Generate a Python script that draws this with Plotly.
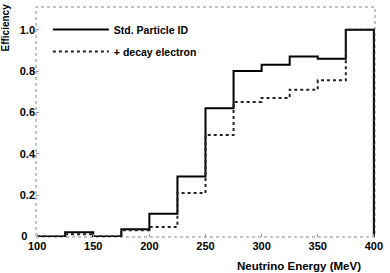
import plotly.graph_objects as go

bin_edges = [100, 125, 150, 175, 200, 225, 250, 275, 300, 325, 350, 375, 400]
std_pid = [0.0, 0.02, 0.0, 0.035, 0.11, 0.29, 0.62, 0.80, 0.83, 0.87, 0.86, 1.0]
decay_e = [0.0, 0.01, 0.0, 0.03, 0.045, 0.21, 0.49, 0.65, 0.67, 0.71, 0.755, 1.0]
x_ticks = [100, 150, 200, 250, 300, 350, 400]
y_ticks = [0, 0.2, 0.4, 0.6, 0.8, 1.0]
y_ticklabels = ["0\u2002\u2009", "0.2", "0.4", "0.6", "0.8", "1.0"]

FONT = "Liberation Sans"

fig = go.Figure()
fig.add_trace(go.Scatter(
    x=bin_edges, y=std_pid + [0.0], mode="lines", line_shape="hv",
    line=dict(color="black", width=2), name="Std. Particle ID", legendgroup="a"))
fig.add_trace(go.Scatter(
    x=bin_edges, y=decay_e + [0.0], mode="lines", line_shape="hv",
    line=dict(color="#222222", width=2, dash="dot"), name="+ decay electron",
    legendgroup="b"))

fig.update_layout(
    width=390, height=273,
    margin=dict(l=36, r=8, t=7, b=36),
    paper_bgcolor="white", plot_bgcolor="white",
    font=dict(family=FONT, size=10, color="black", weight="bold"),
    showlegend=True,
    legend=dict(x=0.035, y=0.965, xanchor="left", yanchor="top",
                bgcolor="rgba(0,0,0,0)", font=dict(size=10.5, weight="bold"),
                itemwidth=56, traceorder="grouped", tracegroupgap=3),
    xaxis=dict(range=[99, 401], tickvals=x_ticks, ticks="inside", ticklen=3,
               tickcolor="#999", showgrid=False, zeroline=False, showline=False,
               ticklabeloverflow="allow", ticklabelstandoff=1,
               tickfont=dict(size=11, weight="bold")),
    yaxis=dict(range=[-0.003, 1.11], tickvals=y_ticks, ticktext=y_ticklabels,
               ticks="inside", ticklen=3, tickcolor="#999", showgrid=False,
               zeroline=False, showline=False, tickfont=dict(size=11, weight="bold")),
    shapes=[dict(type="rect", xref="paper", yref="paper", x0=0, x1=1, y0=0, y1=1,
                 line=dict(color="#888", width=1, dash="dot"), layer="below")],
    annotations=[
        dict(text="Efficiency", xref="paper", yref="paper", x=-0.09, y=0.913,
             xanchor="center", yanchor="middle", textangle=-90, showarrow=False,
             font=dict(size=10, weight="bold")),
        dict(text="Neutrino Energy (MeV)", xref="paper", yref="paper", x=0.965, y=-0.09,
             xanchor="right", yanchor="top", showarrow=False,
             font=dict(size=11.5, weight="bold")),
    ],
)

fig.write_html("out.html", config={"displayModeBar": False},
               post_script="document.body.style.margin='0';")
